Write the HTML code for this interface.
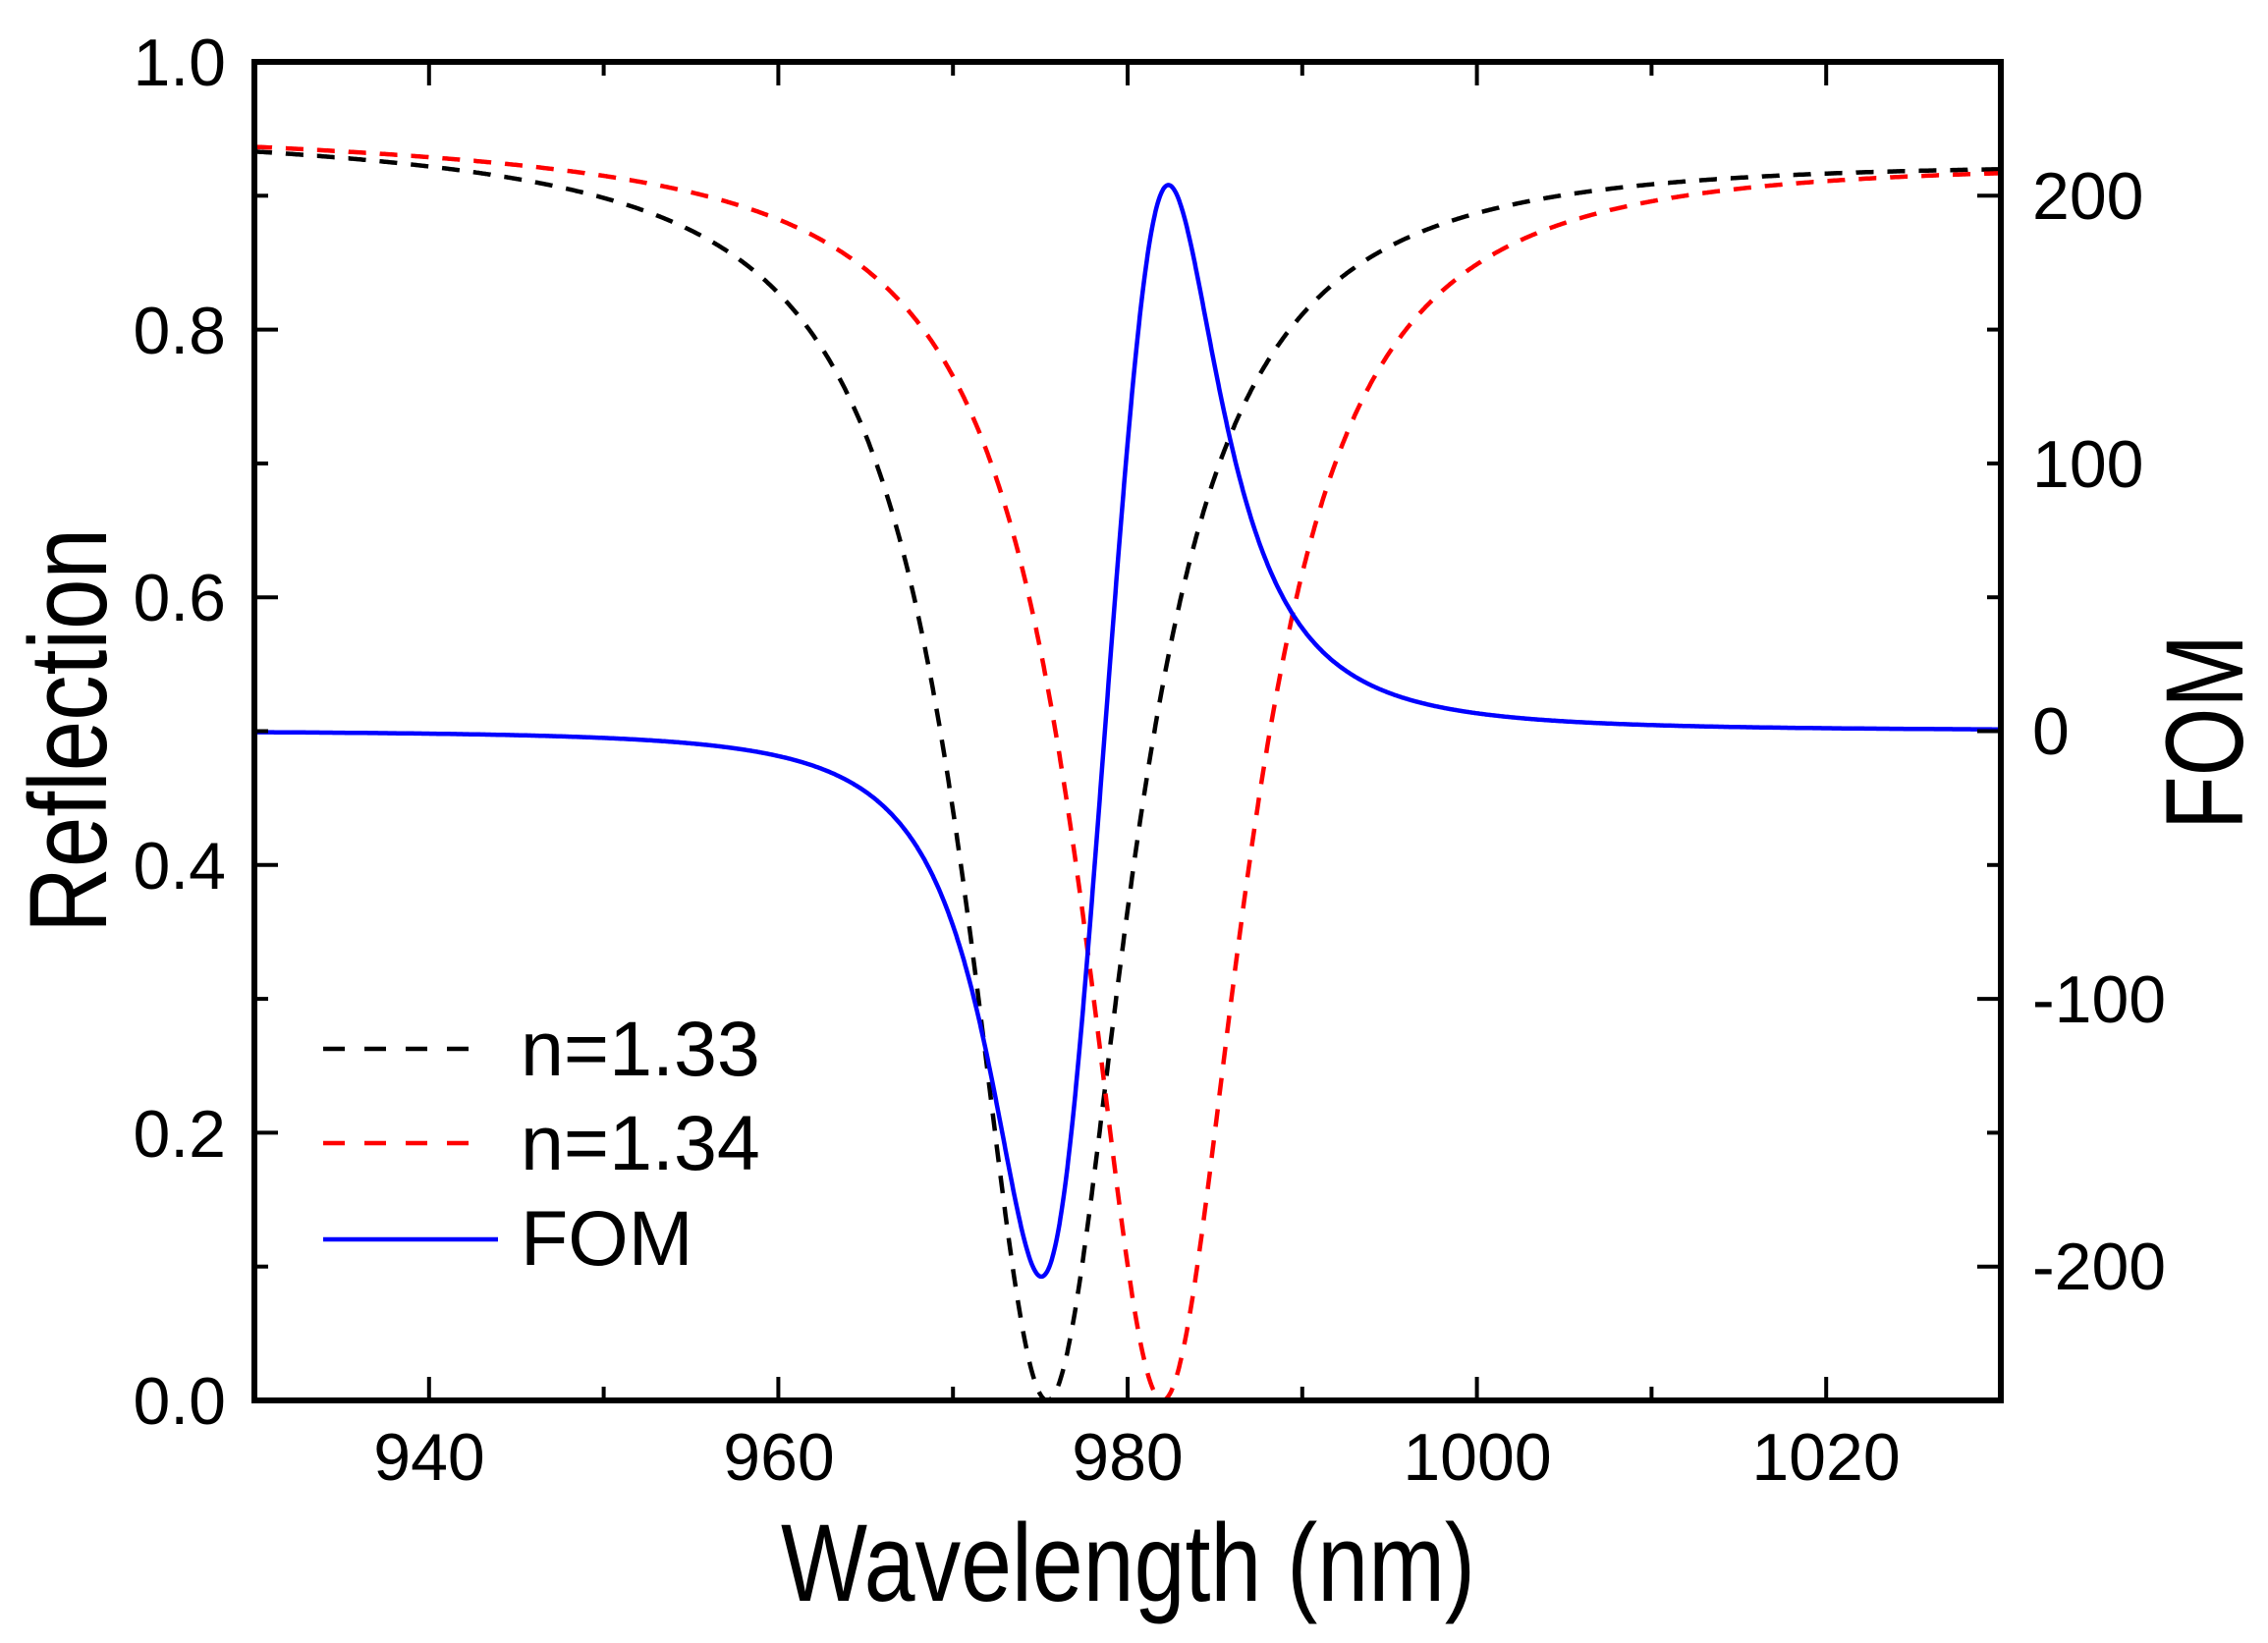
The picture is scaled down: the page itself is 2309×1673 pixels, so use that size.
<!DOCTYPE html>
<html><head><meta charset="utf-8">
<style>html,body{margin:0;padding:0;background:#fff;}svg{display:block;}
text{font-family:"Liberation Sans",Arial,sans-serif;fill:#000;}</style></head>
<body>
<svg id="s" width="2309" height="1673" viewBox="0 0 2309 1673" xmlns="http://www.w3.org/2000/svg">
<rect width="2309" height="1673" fill="#fff"/>
<g id="curves"></g>
<g id="axes"></g>
<g font-size="68">
<text x="230" y="87" text-anchor="end">1.0</text>
<text x="230" y="360" text-anchor="end">0.8</text>
<text x="230" y="632" text-anchor="end">0.6</text>
<text x="230" y="905" text-anchor="end">0.4</text>
<text x="230" y="1178" text-anchor="end">0.2</text>
<text x="230" y="1450" text-anchor="end">0.0</text>
<text x="437" y="1507" text-anchor="middle">940</text>
<text x="793" y="1507" text-anchor="middle">960</text>
<text x="1148" y="1507" text-anchor="middle">980</text>
<text x="1504" y="1507" text-anchor="middle">1000</text>
<text x="1859" y="1507" text-anchor="middle">1020</text>
<text x="2069" y="223">200</text>
<text x="2069" y="496">100</text>
<text x="2069" y="768">0</text>
<text x="2069" y="1041">-100</text>
<text x="2069" y="1313">-200</text>
</g>
<text x="795" y="1630" font-size="112" textLength="707" lengthAdjust="spacingAndGlyphs">Wavelength (nm)</text>
<text transform="translate(108,950) rotate(-90)" font-size="112" textLength="412" lengthAdjust="spacingAndGlyphs">Reflection</text>
<text transform="translate(2283,845) rotate(-90)" font-size="112" textLength="199" lengthAdjust="spacingAndGlyphs">FOM</text>
<g>
<line x1="329" y1="1068" x2="483" y2="1068" stroke="#000" stroke-width="4.5" stroke-dasharray="22,20"/>
<line x1="329" y1="1164" x2="483" y2="1164" stroke="#f00" stroke-width="4.5" stroke-dasharray="22,20"/>
<line x1="329" y1="1262" x2="507" y2="1262" stroke="#00f" stroke-width="4.5"/>
<text x="530" y="1095" font-size="79">n=1.33</text>
<text x="530" y="1191" font-size="79">n=1.34</text>
<text x="530" y="1288" font-size="79">FOM</text>
</g>
</svg>
<script>
(function(){
var L=259,R=2037,T=63,B=1426;
function X(l){return L+(l-930)*(R-L)/100;}
function Y(r){return B-r*(B-T);}
function Lor(l,l0){var x=(l-l0)/5.75;var x2=x*x;var base=0.948-(l-930)*0.00018;return base*x2/(1+x2);}
var pb="",pr="",pf="";
for(var i=0;i<=2000;i++){
 var l=930+i*0.05;
 var rb=Lor(l,975.4), rr=Lor(l,982.0);
 var f=372*(rb-rr)/(rb+rr+0.45);
 var yf=744-f*272.6/100;
 var c=(i?"L":"M");
 pb+=c+X(l).toFixed(1)+","+Y(rb).toFixed(1);
 pr+=c+X(l).toFixed(1)+","+Y(rr).toFixed(1);
 pf+=c+X(l).toFixed(1)+","+yf.toFixed(1);
}
var g=document.getElementById("curves");
g.innerHTML='<path d="'+pb+'" fill="none" stroke="#000" stroke-width="4.5" stroke-dasharray="18,14"/>'+
'<path d="'+pr+'" fill="none" stroke="#f00" stroke-width="4.5" stroke-dasharray="18,14"/>'+
'<path d="'+pf+'" fill="none" stroke="#00f" stroke-width="4.5"/>';
var a='<rect x="'+L+'" y="'+T+'" width="'+(R-L)+'" height="'+(B-T)+'" fill="none" stroke="#000" stroke-width="6"/>';
for(var v=930;v<=1030;v+=10){
 var x=X(v);var len=(v%20===0)?24:14;
 a+='<line x1="'+x+'" y1="'+B+'" x2="'+x+'" y2="'+(B-len)+'" stroke="#000" stroke-width="4"/>';
 a+='<line x1="'+x+'" y1="'+T+'" x2="'+x+'" y2="'+(T+len)+'" stroke="#000" stroke-width="4"/>';
}
for(var k=0;k<=10;k++){
 var y=Y(k/10);var len2=(k%2===0)?24:14;
 a+='<line x1="'+L+'" y1="'+y+'" x2="'+(L+len2)+'" y2="'+y+'" stroke="#000" stroke-width="4"/>';
 var fv=(k/10-0.5)*500;var len3=(Math.abs(fv)%100===0)?24:14;
 a+='<line x1="'+R+'" y1="'+y+'" x2="'+(R-len3)+'" y2="'+y+'" stroke="#000" stroke-width="4"/>';
}
document.getElementById("axes").innerHTML=a;
})();
</script>
</body></html>
